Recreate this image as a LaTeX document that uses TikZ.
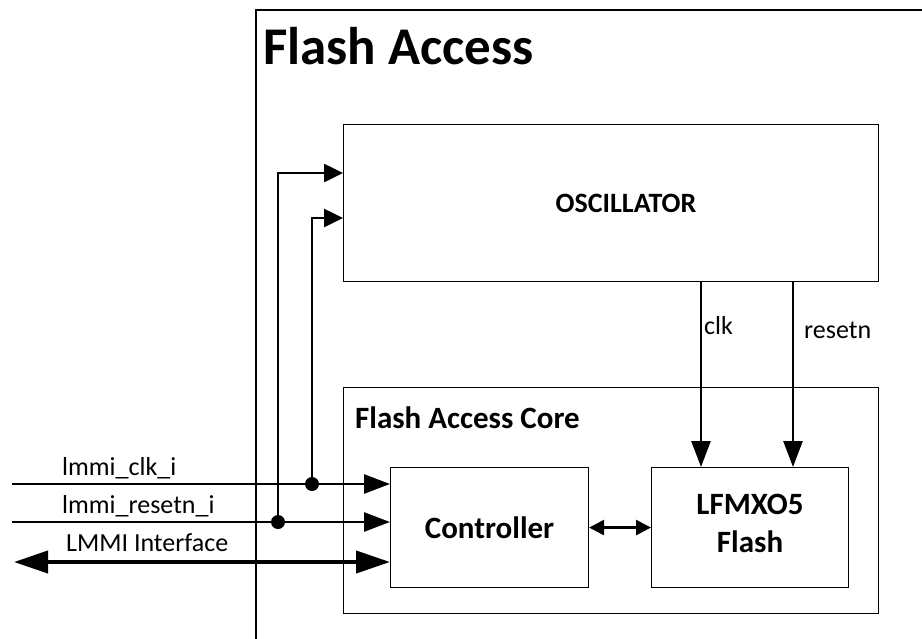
\documentclass[tikz,border=0pt]{standalone}
\usepackage{fontspec}
\setmainfont{Carlito}
\usetikzlibrary{arrows.meta}
\begin{document}
\begin{tikzpicture}[x=1pt,y=-1pt,
  box/.style={draw,line width=1.1pt},
  sig/.style={line width=2.6pt,-{Triangle[length=26pt,width=19pt]}},
  osig/.style={line width=2.6pt,-{Triangle[length=19pt,width=18pt]}},
  bus/.style={line width=4pt,{Triangle[length=34pt,width=22pt]}-{Triangle[length=34pt,width=22pt]}},
  dot/.style={circle,fill,inner sep=0pt,minimum size=14pt},
  lbl/.style={font=\fontsize{26}{30}\selectfont,inner sep=0pt},
  btitle/.style={font=\bfseries\fontsize{31}{38}\selectfont,inner sep=0pt}]
\useasboundingbox (0,0) rectangle (922,638);
\begin{scope}
\clip (0,0) rectangle (922,638);
\draw[box] (256,10) rectangle (960,700);
\end{scope}
\node[inner sep=0pt,font=\bfseries\fontsize{53}{60}\selectfont,anchor=base west] (title) at (263,64) {Flash Access};
% oscillator
\node[box,minimum width=535pt,minimum height=157pt,anchor=north west,inner sep=0pt] (osc) at (343,124) {};
\node[btitle,font=\bfseries\fontsize{28}{34}\selectfont] (osct) at (626,203) {OSCILLATOR};
% core
\node[box,minimum width=535pt,minimum height=226pt,anchor=north west,inner sep=0pt] (core) at (343,387) {};
\node[btitle,anchor=base west] (coret) at (355,428) {Flash Access Core};
\node[box,minimum width=198pt,minimum height=120pt,anchor=north west,inner sep=0pt] (ctrl) at (390,467) {};
\node[btitle] (ctrlt) at (ctrl.center) {Controller};
\node[box,minimum width=197pt,minimum height=120pt,anchor=north west,inner sep=0pt] (fl) at (651,467) {};
\node[btitle,align=center] (flt) at ([yshift=4pt]fl.center) {LFMXO5\\Flash};
% osc outputs
\coordinate (c1) at (701,281);
\coordinate (c2) at (793,281);
\draw[sig] (c1) -- (c1 |- fl.north);
\draw[sig] (c2) -- (c2 |- fl.north);
\node[lbl,anchor=base west] (clkl) at (704,334) {clk};
\node[lbl,anchor=base west] (rstl) at (804,338) {resetn};
% controller-flash
\draw[line width=2.6pt,{Triangle[length=15pt,width=15pt]}-{Triangle[length=15pt,width=15pt]}] (ctrl.east) -- (fl.west);
% inputs
\coordinate (in1) at (12,484);
\coordinate (in2) at (12,522);
\coordinate (in3) at (14,562);
\draw[sig] (in1) -- (in1 -| ctrl.west);
\draw[sig] (in2) -- (in2 -| ctrl.west);
\draw[bus] (in3) -- (in3 -| ctrl.west);
\node[dot] (d1) at (312,484) {};
\node[dot] (d2) at (278,522) {};
\coordinate (o2) at (343,173);
\coordinate (o1) at (343,218);
\draw[osig] (d2.center) |- (o2);
\draw[osig] (d1.center) |- (o1);
\node[lbl,anchor=base west] (l1) at (62,475) {lmmi\_clk\_i};
\node[lbl,anchor=base west] (l2) at (62,513) {lmmi\_resetn\_i};
\node[lbl,anchor=base west] (l3) at (66,551) {LMMI Interface};
\end{tikzpicture}
\end{document}
